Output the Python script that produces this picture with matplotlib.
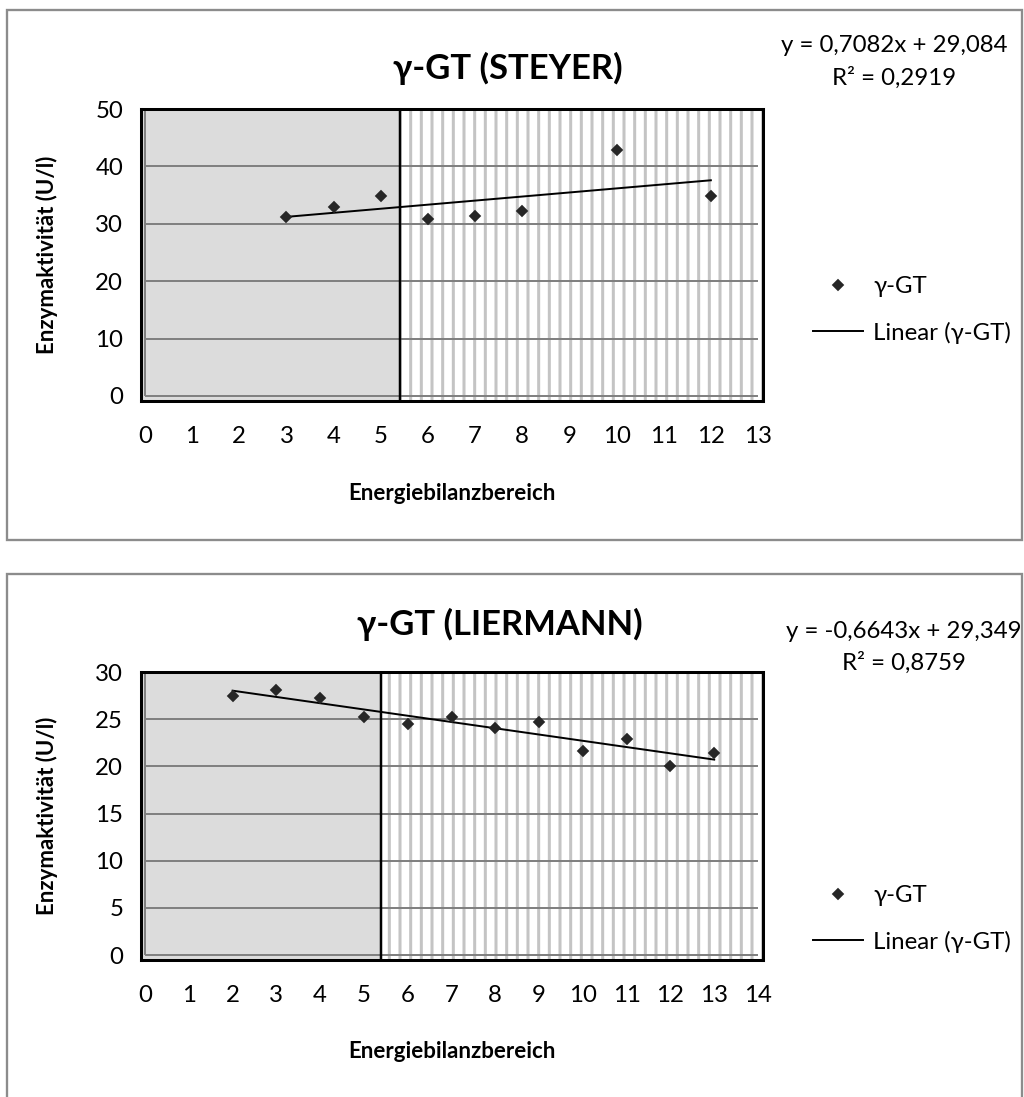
import numpy as np
import matplotlib
matplotlib.use('Agg')
import matplotlib.pyplot as plt
from matplotlib.patches import Rectangle

plt.rcParams['font.family'] = ['Lato', 'DejaVu Sans']
plt.rcParams['hatch.color'] = '#c4c4c4'
plt.rcParams['hatch.linewidth'] = 1.7

DPI = 128
W, H = 1024, 1097

# Daten STEYER
x_steyer = [3, 4, 5, 6, 7, 8, 10, 12]
y_steyer = [31.2, 32.9, 34.9, 30.9, 31.4, 32.2, 42.9, 34.9]
fit_steyer = (0.7082, 29.084)
r2_steyer = 0.2919

# Daten LIERMANN
x_liermann = [2, 3, 4, 5, 6, 7, 8, 9, 10, 11, 12, 13]
y_liermann = [27.5, 28.1, 27.2, 25.2, 24.5, 25.2, 24.1, 24.7, 21.6, 22.9, 20.0, 21.4]
fit_liermann = (-0.6643, 29.349)
r2_liermann = 0.8759

# Grenze zwischen den Bereichen
grenze = 5.4

FS = 13.5  # Schriftgroesse Achsen / Legende


def komma(v, n):
    return f"{v:.{n}f}".replace('.', ',')


def fpos(l, t, r, b):
    # Pixel -> Figurkoordinaten
    return [l / W, 1 - b / H, (r - l) / W, (b - t) / H]


def panel(fig, box, rahmen, x, y, fit, r2, titel, xmax, ymax, ystep,
          titel_pos, eq_pos, r2_pos, leg_y):
    l, t, r, b = box
    # Rahmen des Diagramms
    rl, rt, rr, rb = rahmen
    fig.patches.append(Rectangle((rl / W, 1 - rb / H), (rr - rl) / W, (rb - rt) / H,
                                 transform=fig.transFigure, fill=False,
                                 edgecolor='#8c8c8c', lw=1.3))

    ax = fig.add_axes(fpos(l, t, r, b))
    sx = (r - l - 9) / xmax
    sy = (b - t - 5) / ymax
    x0, x1 = -4 / sx, xmax + 5 / sx
    ax.set_xlim(x0, x1)
    ax.set_ylim(-5 / sy, ymax)

    ax.axvspan(x0, grenze, color='#dcdcdc', lw=0, zorder=0)
    ax.axvspan(grenze, x1, facecolor='white', edgecolor='#c4c4c4',
               hatch='||', lw=0, zorder=0)
    ax.hlines(np.arange(0, ymax + 1, ystep), 0, xmax, color='#7f7f7f', lw=1.1, zorder=1)
    ax.vlines(0, 0, ymax, color='#7f7f7f', lw=1.1, zorder=1)
    ax.axvline(grenze, color='black', lw=1.4, zorder=2)

    ax.plot(x, y, 'D', color='#262626', ms=4.2, zorder=4, label='γ-GT')
    m, c = fit
    xs = np.array([min(x), max(x)])
    ax.plot(xs, m * xs + c, color='black', lw=1.1, zorder=3, label='Linear (γ-GT)')

    for s in ax.spines.values():
        s.set_linewidth(1.7)
        s.set_color('black')
    ax.set_xticks(range(0, xmax + 1))
    ax.set_yticks(np.arange(0, ymax + 1, ystep))
    ax.tick_params(axis='x', length=0, pad=14, labelsize=FS)
    ax.tick_params(axis='y', length=0, pad=10, labelsize=FS)

    ax.set_xlabel('Energiebilanzbereich', fontsize=12.5, fontweight='bold', va='center')
    ax.xaxis.set_label_coords(0.5, -92 / (b - t))
    ax.set_ylabel('Enzymaktivität (U/l)', fontsize=12.5, fontweight='bold', va='center')
    ax.yaxis.set_label_coords((47 - l) / (r - l), 0.5)

    fig.text(titel_pos[0] / W, 1 - titel_pos[1] / H, titel, fontsize=19.5,
             fontweight='bold', ha='center', va='center')
    vz = '+' if c >= 0 else '-'
    fig.text(eq_pos[0] / W, 1 - eq_pos[1] / H,
             f"y = {komma(m, 4)}x {vz} {komma(abs(c), 3)}",
             fontsize=FS, ha='center', va='center')
    fig.text(r2_pos[0] / W, 1 - r2_pos[1] / H, f"R² = {komma(r2, 4)}",
             fontsize=FS, ha='center', va='center')

    ax.legend(loc='center left', bbox_to_anchor=(813 / W, 1 - leg_y / H),
              bbox_transform=fig.transFigure, frameon=False, fontsize=FS,
              handlelength=2.1, handletextpad=0.4, labelspacing=1.0,
              borderpad=0, borderaxespad=0)
    return ax


fig = plt.figure(figsize=(W / DPI, H / DPI), dpi=DPI)

panel(fig, (141, 109, 763, 401), (7, 10, 1022, 540),
      x_steyer, y_steyer, fit_steyer, r2_steyer, 'γ-GT (STEYER)',
      13, 50, 10, (508, 68), (894, 46), (894, 78), 310)

panel(fig, (141, 672, 763, 960), (7, 574, 1022, 1120),
      x_liermann, y_liermann, fit_liermann, r2_liermann, 'γ-GT (LIERMANN)',
      14, 30, 5, (500, 624), (904, 632), (904, 663), 919)

fig.savefig('out.png', dpi=DPI)
